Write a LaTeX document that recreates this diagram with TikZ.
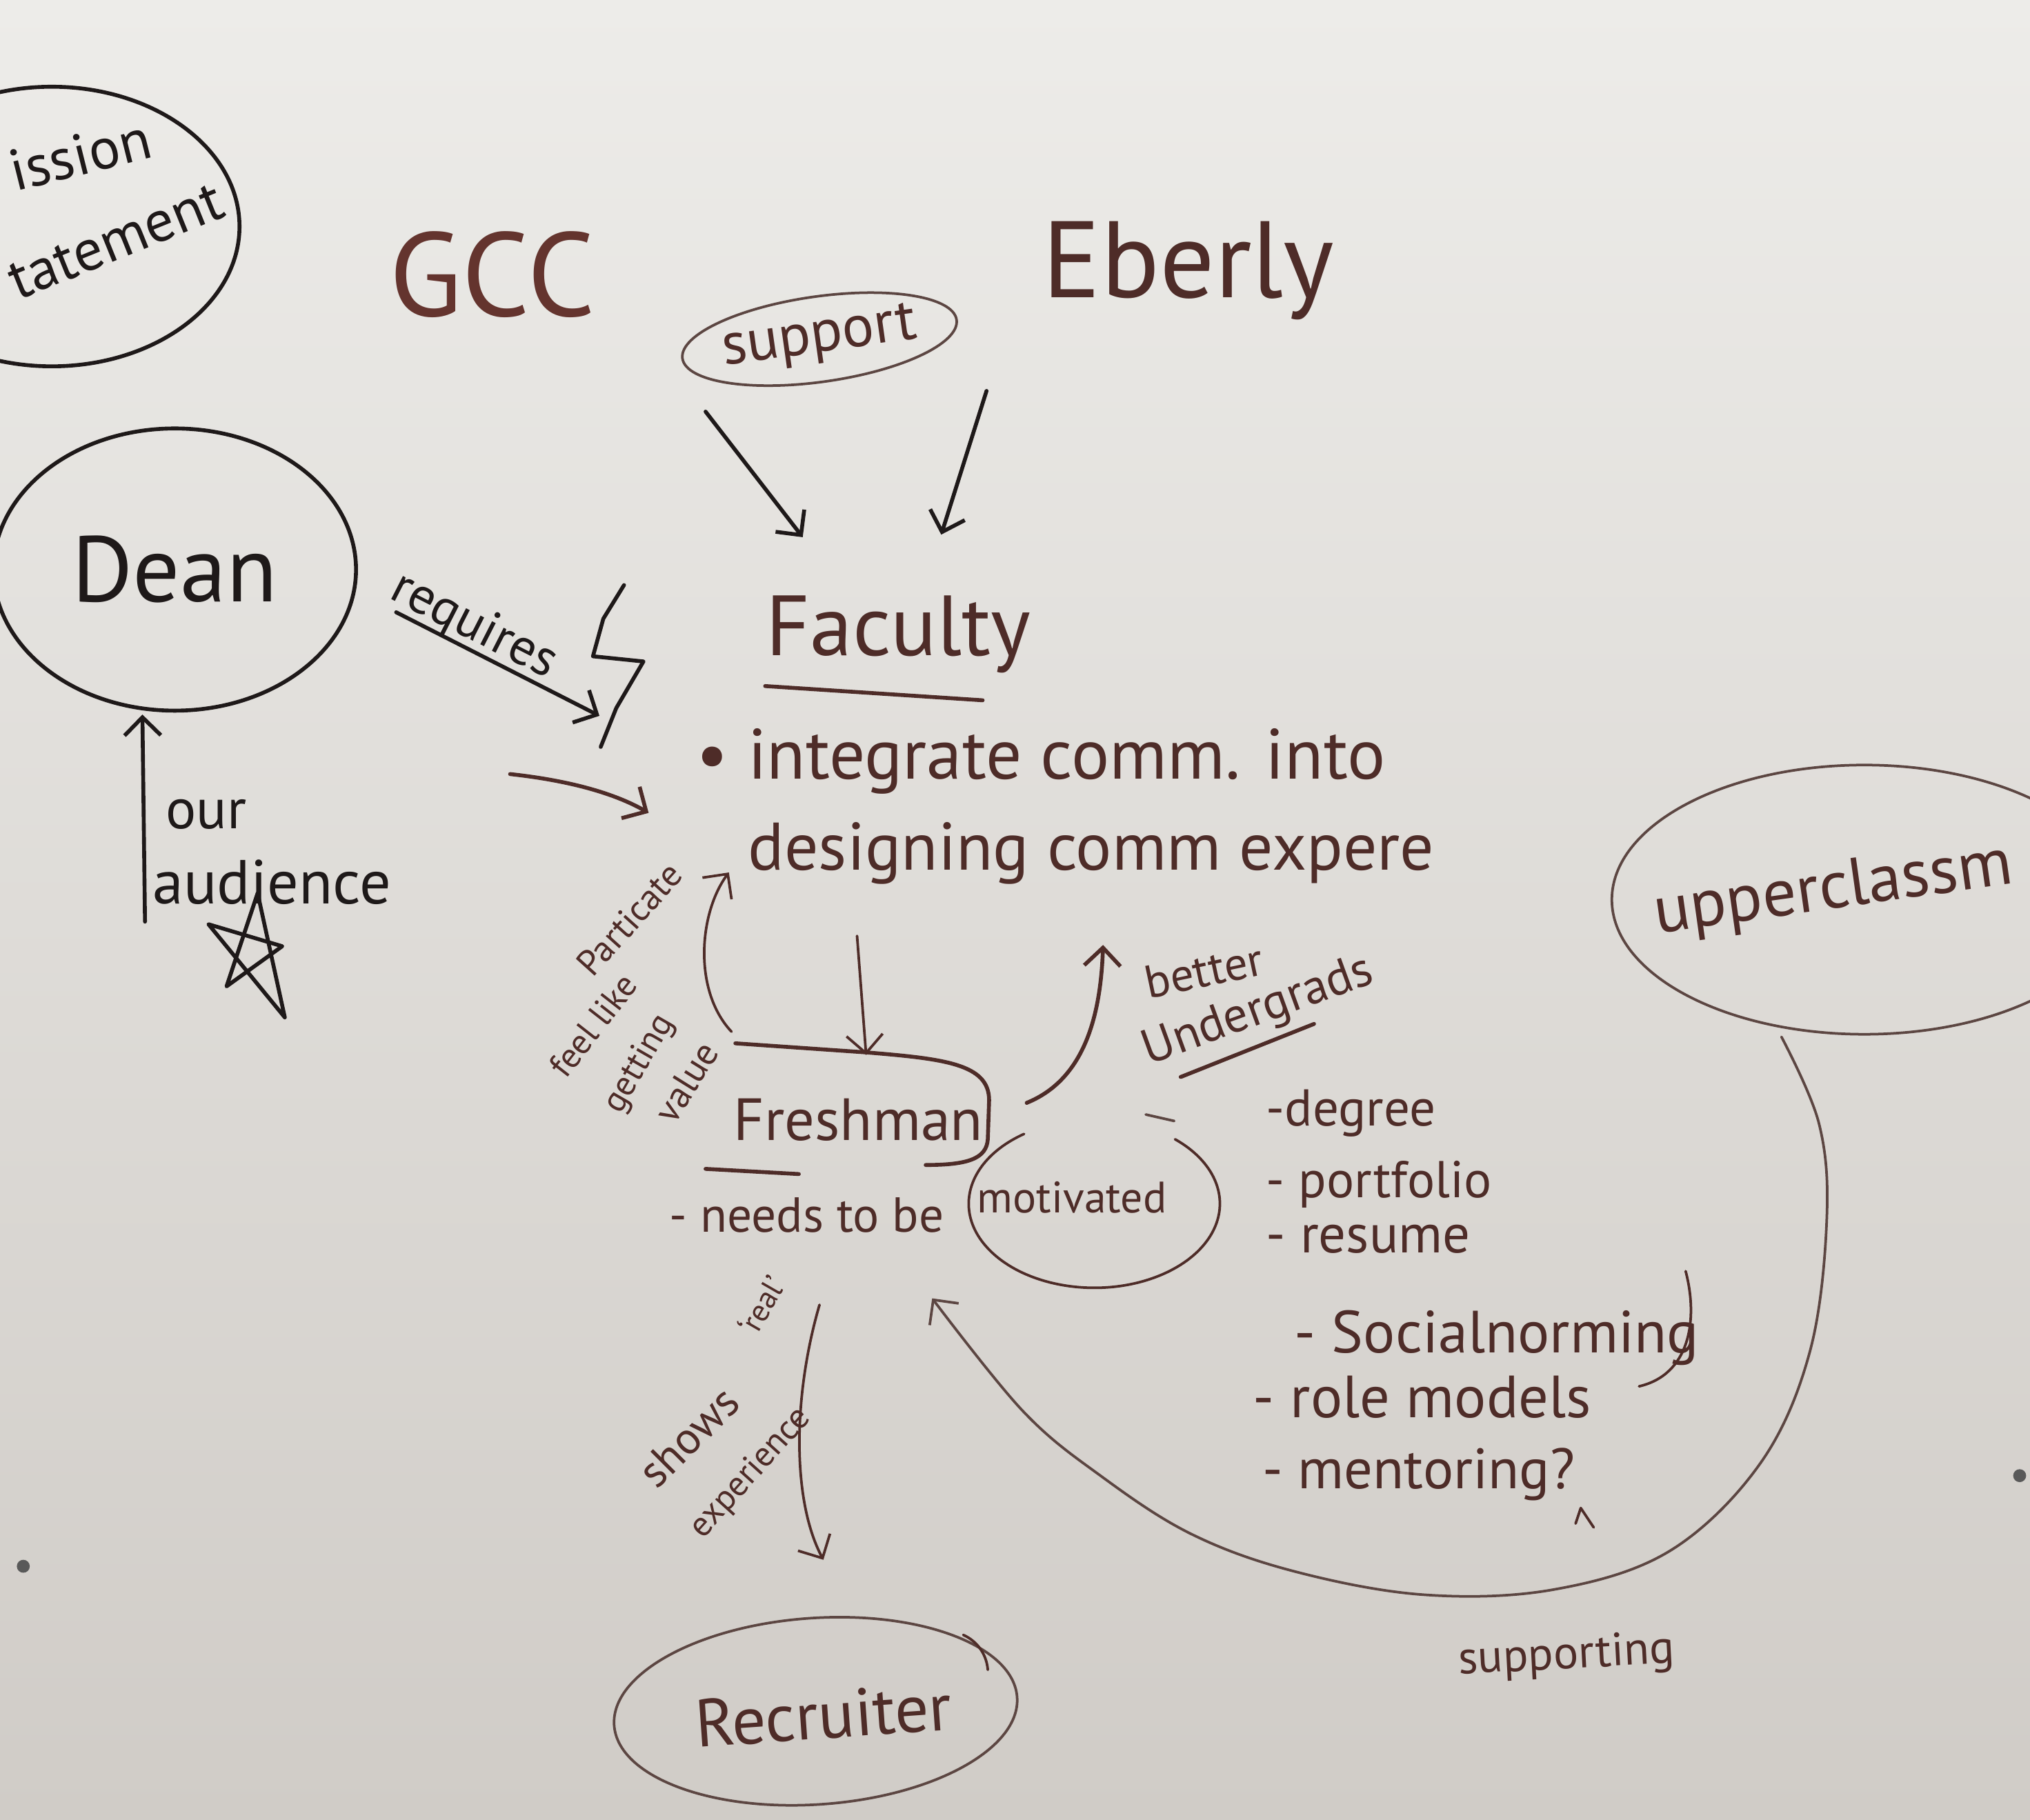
\documentclass[tikz,border=0pt]{standalone}
\usepackage{fontspec}
\setmainfont{PT Sans}
\usetikzlibrary{arrows.meta,shapes.geometric}
\definecolor{ink}{RGB}{78,44,40}
\definecolor{inkd}{RGB}{30,25,25}
\definecolor{inkr}{RGB}{100,52,46}
\definecolor{inkl}{RGB}{92,70,66}
\definecolor{boardtop}{RGB}{237,236,233}
\definecolor{boardbot}{RGB}{208,204,199}
\newcommand\hsz[1]{\fontsize{#1}{#1}\selectfont}
\begin{document}
\begin{tikzpicture}[x=1pt,y=-1pt,
  pen/.style={line width=3pt, line cap=round, line join=round},
  thinpen/.style={line width=2pt, line cap=round, line join=round},
  txt/.style={inner sep=0pt, outer sep=0pt, text=ink},
  bubble/.style={ellipse, inner sep=0pt},
  >={Straight Barb[length=14pt,width=28pt]}]
\useasboundingbox (0,0) rectangle (1568,1406);
\shade[top color=boardtop, bottom color=boardbot] (0,0) rectangle (1568,1406);
\clip (0,0) rectangle (1568,1406);

% mission statement
\node[bubble, draw=inkd, pen, minimum width=290pt, minimum height=216pt] (msn) at (40,175) {};
\node[txt, text=inkd, font=\hsz{45}, anchor=base west, rotate=14] (msn1) at (12,148) {ission};
\node[txt, text=inkd, font=\hsz{45}, anchor=base west, rotate=22] (msn2) at (14,232) {tatement};

% headings
\node[txt, text=inkr, font=\hsz{92}] (gcc) at (380,212) {GCC};
\node[txt, font=\hsz{84}] (eberly) at (918,209) {Eberly};
\node[bubble, draw=inkl, thinpen, minimum width=194pt, minimum height=66pt, rotate=8, txt, font=\hsz{46}] (support) at (633,262) {support};

% support arrows
\coordinate (sLs) at (545,318); \coordinate (sLt) at (620,415);
\coordinate (sRs) at (762,302); \coordinate (sRt) at (727,413);
\draw[pen, inkd, ->] (sLs) -- (sLt);
\draw[pen, inkd, ->] (sRs) -- (sRt);

% Dean
\node[bubble, draw=inkd, pen, minimum width=280pt, minimum height=218pt, txt, text=inkd, font=\hsz{72}] (dean) at (135,440) {Dean};
\node[txt, text=inkd, font=\hsz{40}, rotate=-27] (req) at (366,484) {requires};
\coordinate (reqS) at (306,473); \coordinate (reqT) at (463,553);
\draw[pen, inkd, ->] (reqS) -- (reqT);
\draw[pen, inkd] (482,452) -- (466,478) -- (458,507) -- (497,511) -- (476,547) -- (464,577);

% audience
\coordinate (audS) at (112,712); \coordinate (audT) at (110,552);
\draw[pen, inkd, ->] (audS) -- (audT);
\node[txt, text=inkd, font=\hsz{44}, anchor=base west] (our) at (128,640) {our};
\node[txt, text=inkd, font=\hsz{48}, anchor=base west] (aud) at (118,698) {audience};
\draw[pen, inkd] (199,690) -- (220,786) -- (161,714) -- (218,731) -- (175,762) -- cycle;

% Faculty
\node[txt, font=\hsz{66}] (fac) at (694,490) {Faculty};
\draw[pen, ink] (591,530) -- (759,541);
\node[txt, font=\hsz{55}, anchor=base west] (integ1) at (538,602) {• integrate comm. into};
\node[txt, font=\hsz{52}, anchor=base west] (integ2) at (578,672) {designing comm expere};
\coordinate (intS) at (394,598); \coordinate (intT) at (501,628);
\draw[pen, ink, ->] (intS) .. controls (440,603) and (475,613) .. (intT);

% participate
\node[txt, rotate=48, font=\hsz{28}] (p1) at (486,710) {Particate};
\node[txt, rotate=52, font=\hsz{27}] (p2) at (458,792) {feel like};
\node[txt, rotate=60, font=\hsz{27}] (p3) at (494,822) {getting};
\node[txt, rotate=58, font=\hsz{29}] (p4) at (530,836) {value};
\coordinate (pS) at (565,797); \coordinate (pT) at (563,674);
\draw[thinpen, ink, ->] (pS) .. controls (535,765) and (540,705) .. (pT);

% Freshman
\node[txt, font=\hsz{46}] (fresh) at (663,865) {Freshman};
\coordinate (dS) at (662,723); \coordinate (dT) at (669,815);
\draw[thinpen, ink, ->] (dS) -- (dT);
\draw[pen, ink] (568,806) -- (669,813) .. controls (730,818) and (764,822) .. (764,850) -- (763,880) .. controls (762,895) and (748,900) .. (715,900);
\draw[pen, ink] (545,903) -- (617,907);
\node[txt, font=\hsz{38}, anchor=base west] (needs) at (517,952) {- needs to be};
\node[txt, font=\hsz{34}] (motiv) at (828,925) {motivated};
\draw[thinpen, ink] (791,876) arc[start angle=124, end angle=410, x radius=97pt, y radius=65pt];
\draw[thinpen, inkl] (885,861) -- (907,866);

% better undergrads
\coordinate (bS) at (793,852); \coordinate (bT) at (852,730);
\draw[pen, ink, ->] (bS) .. controls (835,835) and (850,790) .. (bT);
\node[txt, rotate=12, font=\hsz{36}] (better) at (930,750) {better};
\node[txt, rotate=20, font=\hsz{38}] (under) at (972,782) {Undergrads};
\draw[pen, ink] (912,832) -- (1015,791);

% list
\node[txt, anchor=base west, font=\hsz{40}] (l1) at (978,870) {-degree};
\node[txt, anchor=base west, font=\hsz{40}] (l2) at (978,925) {- portfolio};
\node[txt, anchor=base west, font=\hsz{42}] (l3) at (978,968) {- resume};
\node[txt, anchor=base west, font=\hsz{46}] (l4) at (1000,1045) {- Socialnorming};
\node[txt, anchor=base west, font=\hsz{46}] (l5) at (968,1095) {- role models};
\node[txt, anchor=base west, font=\hsz{44}] (l6) at (975,1150) {- mentoring?};
\draw[thinpen, ink] (1302,982) .. controls (1312,1020) and (1305,1062) .. (1266,1071);
\draw[thinpen, ink] (1217,1177) -- (1221,1165) -- (1231,1180);

% upperclassmen
\node[bubble, draw=inkl, thinpen, minimum width=390pt, minimum height=208pt] (upper) at (1440,695) {};
\node[txt, anchor=base west, rotate=8, font=\hsz{52}] (uppert) at (1280,721) {upperclassm};
\coordinate (uS) at (1376,801); \coordinate (uT) at (720,1003);
\draw[thinpen, inkl, ->] plot[smooth, tension=0.6] coordinates {(uS) (1405,868) (1411,942) (1398,1044) (1360,1130) (1290,1198) (1200,1228) (1100,1232) (1000,1214) (920,1185) (850,1140) (790,1090) (uT)};
\node[txt, rotate=3, font=\hsz{36}] (supp) at (1210,1280) {supporting};

% recruiter
\coordinate (rS) at (633,1008); \coordinate (rT) at (636,1205);
\draw[thinpen, ink, ->] (rS) .. controls (612,1080) and (612,1160) .. (rT);
\node[txt, rotate=45, font=\hsz{35}] (shows) at (532,1110) {shows};
\node[txt, rotate=60, font=\hsz{24}] (real) at (588,1008) {‘real’};
\node[txt, rotate=48, font=\hsz{27}] (exp) at (580,1138) {experience};
\node[bubble, draw=inkl, thinpen, minimum width=312pt, minimum height=144pt, rotate=4] (rec) at (630,1322) {};
\node[txt, rotate=4, font=\hsz{52}] (rect) at (636,1325) {Recruiter};
\draw[thinpen, ink] (744,1263) .. controls (755,1268) and (762,1278) .. (763,1290);

% magnets
\fill[black!65] (1560,1140) circle (5pt);
\fill[black!65] (18,1210) circle (5pt);
\end{tikzpicture}
\end{document}
